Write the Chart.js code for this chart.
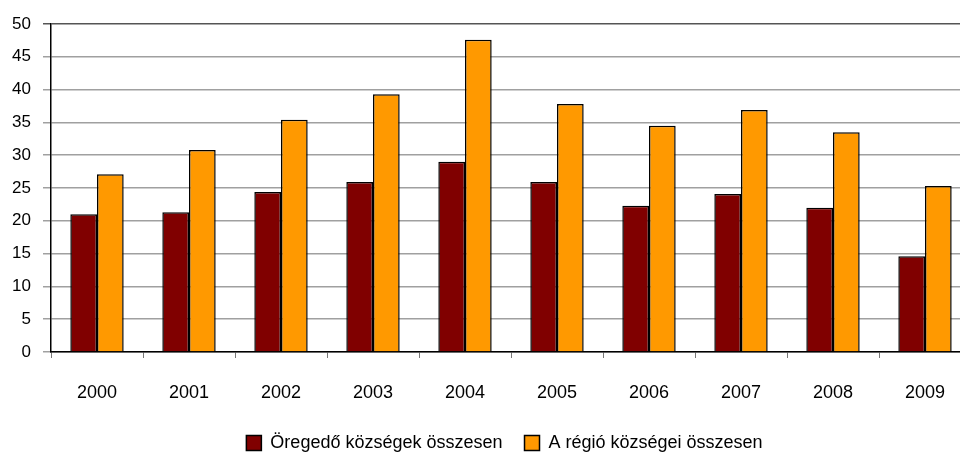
<!DOCTYPE html>
<html><head><meta charset="utf-8">
<script src="https://cdn.jsdelivr.net/npm/chart.js@4"></script>
<style>html,body{margin:0;padding:0;background:#fff;overflow:hidden;width:960px;height:453px}#w{width:971px;height:453px}</style>
</head><body><div id="w"><canvas id="c"></canvas></div>
<script>
const categories = ['2000','2001','2002','2003','2004','2005','2006','2007','2008','2009'];
const oregedo = [21.0, 21.3, 24.4, 25.9, 29.0, 25.9, 22.3, 24.1, 22.0, 14.6];
const regio = [27.1, 30.8, 35.4, 39.3, 47.6, 37.8, 34.5, 36.9, 33.5, 25.3];
const seriesNames = ['Öregedő községek összesen', 'A régió községei összesen'];
const yTicks = [0,5,10,15,20,25,30,35,40,45,50];

Chart.defaults.font.family = '"Liberation Sans", Arial, sans-serif';
Chart.defaults.color = '#000';

const legendShift = {
  id: 'legendShift',
  afterLayout(chart) {
    const l = chart.legend;
    if (!l) return;
    l.left += 19; l.right += 19;
    l.top += 9; l.bottom += 9;
  }
};

new Chart(document.getElementById('c'), {
  type: 'bar',
  data: {
    labels: categories,
    datasets: [
      {label: seriesNames[0], data: oregedo, backgroundColor: '#800000', borderColor: '#000', borderWidth: 1.5, borderSkipped: 'bottom'},
      {label: seriesNames[1], data: regio, backgroundColor: '#FF9900', borderColor: '#000', borderWidth: 1.5, borderSkipped: 'bottom'}
    ]
  },
  plugins: [legendShift],
  options: {
    responsive: true, maintainAspectRatio: false, animation: false,
    layout: {padding: {top: 24, right: 0, left: 0, bottom: 0}},
    datasets: {bar: {categoryPercentage: 0.58, barPercentage: 1}},
    plugins: {
      legend: {position: 'bottom', labels: {boxWidth: 15, boxHeight: 15, padding: 22, font: {size: 18}, color: '#000'}},
      tooltip: {enabled: false}
    },
    scales: {
      x: {
        grid: {display: true, drawOnChartArea: false, offset: true, tickLength: 6, color: '#777', lineWidth: 1},
        border: {display: true, color: '#000', width: 1.5},
        ticks: {padding: 24, font: {size: 18}, color: '#000', maxRotation: 0},
        afterFit: s => { s.height = 51; }
      },
      y: {
        min: 0, max: 50,
        afterBuildTicks: s => { s.ticks = yTicks.map(v => ({value: v})); },
        grid: {color: ctx => ctx.tick && ctx.tick.value === 50 ? '#555' : '#a0a0a0', lineWidth: 1.5, tickLength: 8},
        border: {display: true, color: '#000', width: 1.5},
        ticks: {padding: 12, font: {size: 17}, color: '#000'},
        afterFit: s => { s.width = 51; }
      }
    }
  }
});
</script></body></html>
